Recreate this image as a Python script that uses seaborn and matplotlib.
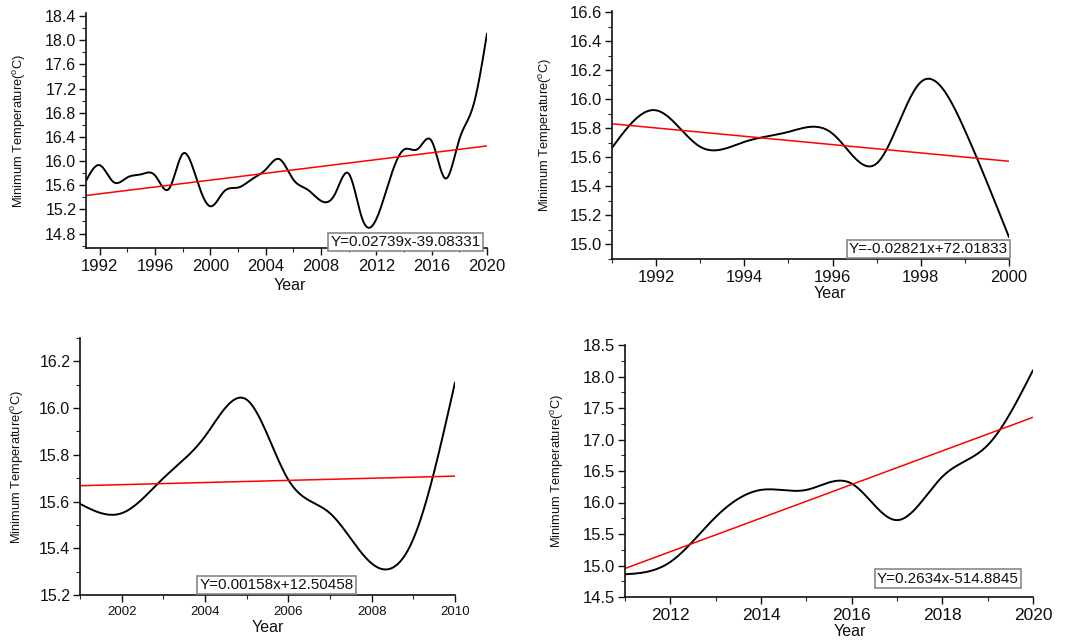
import numpy as np
import pandas as pd
import matplotlib
matplotlib.use("Agg")
import matplotlib.pyplot as plt
import seaborn as sns
from matplotlib.ticker import MultipleLocator

# annual minimum temperature (panels are not fully consistent)
years_all = list(range(1991, 2021))
tmin_all = [15.67, 15.93, 15.65, 15.73, 15.78, 15.76, 15.54, 16.12, 15.70, 15.25,
            15.50, 15.56, 15.70, 15.86, 16.03, 15.69, 15.53, 15.34, 15.45, 15.79,
            15.03, 15.04, 15.72, 16.19, 16.20, 16.33, 15.71, 16.36, 16.91, 18.11]

years_a = list(range(1991, 2001))
tmin_a = [15.665, 15.924, 15.672, 15.706, 15.775, 15.763, 15.557, 16.119, 15.786, 15.048]

years_b = list(range(2001, 2011))
tmin_b = [15.59, 15.55, 15.70, 15.879, 16.036, 15.693, 15.55, 15.335, 15.44, 16.11]

years_c = list(range(2011, 2021))
tmin_c = [14.86, 15.056, 15.77, 16.20, 16.20, 16.30, 15.72, 16.41, 16.91, 18.10]

equations = ["Y=0.02739x-39.08331", "Y=-0.02821x+72.01833",
             "Y=0.00158x+12.50458", "Y=0.2634x-514.8845"]


def natural_spline(x, y, n=600):
    # smooth connection between the yearly points (like Origin's spline line)
    x = np.asarray(x, float)
    y = np.asarray(y, float)
    k = len(x)
    h = np.diff(x)
    A = np.zeros((k, k))
    r = np.zeros(k)
    A[0, 0] = A[-1, -1] = 1
    for i in range(1, k - 1):
        A[i, i - 1] = h[i - 1]
        A[i, i] = 2 * (h[i - 1] + h[i])
        A[i, i + 1] = h[i]
        r[i] = 6 * ((y[i + 1] - y[i]) / h[i] - (y[i] - y[i - 1]) / h[i - 1])
    m = np.linalg.solve(A, r)
    xs = np.linspace(x[0], x[-1], n)
    j = np.clip(np.searchsorted(x, xs) - 1, 0, k - 2)
    t0 = xs - x[j]
    t1 = x[j + 1] - xs
    hj = h[j]
    ys = (m[j] * t1 ** 3 / (6 * hj) + m[j + 1] * t0 ** 3 / (6 * hj)
          + (y[j] / hj - m[j] * hj / 6) * t1 + (y[j + 1] / hj - m[j + 1] * hj / 6) * t0)
    return xs, ys


sns.set_style("ticks")
plt.rcParams["font.family"] = ["Liberation Sans", "DejaVu Sans"]
plt.rcParams["mathtext.fontset"] = "custom"
plt.rcParams["mathtext.rm"] = "Liberation Sans"

W, H = 1088, 641
fig = plt.figure(figsize=(W / 100, H / 100), dpi=100)


def px_axes(l, t, r, b):
    return fig.add_axes([l / W, 1 - b / H, (r - l) / W, (b - t) / H])


panels = [
    dict(rect=(86, 13, 487, 248), x=years_all, y=tmin_all, ylim=(14.56, 18.45),
         ymaj=0.4, ymin=0.2, xmaj=4, xmin=2, xfirst=1992, eq=equations[0],
         box=(0.985, -0.005), ha="right", xfs=12, yfs=11.5, ylx=20, xlab=(290, 286)),
    dict(rect=(612, 11, 1009, 259), x=years_a, y=tmin_a, ylim=(14.897, 16.61),
         ymaj=0.2, ymin=0.1, xmaj=2, xmin=1, xfirst=1992, eq=equations[1],
         box=(0.998, 0.012), ha="right", xfs=12, yfs=12, ylx=546, xlab=(830, 294)),
    dict(rect=(80, 338, 455, 595), x=years_b, y=tmin_b, ylim=(15.2, 16.3),
         ymaj=0.2, ymin=0.1, xmaj=2, xmin=1, xfirst=2002, eq=equations[2],
         box=(0.525, 0.012), ha="center", xfs=9.5, yfs=11.5, ylx=18, xlab=(268, 628)),
    dict(rect=(625, 345, 1033, 597), x=years_c, y=tmin_c, ylim=(14.5, 18.5),
         ymaj=0.5, ymin=0.25, xmaj=2, xmin=1, xfirst=2012, eq=equations[3],
         box=(0.965, 0.045), ha="right", xfs=12.5, yfs=12, ylx=558, xlab=(850, 632)),
]

for p in panels:
    ax = px_axes(*p["rect"])
    df = pd.DataFrame({"Year": p["x"], "Tmin": p["y"]})
    xs, ys = natural_spline(df["Year"], df["Tmin"])
    sns.lineplot(x=xs, y=ys, ax=ax, color="black", linewidth=1.4)
    sns.regplot(data=df, x="Year", y="Tmin", ax=ax, scatter=False, ci=None,
                truncate=True, color="red", line_kws={"linewidth": 1.1})
    ax.set_xlim(df["Year"].min(), df["Year"].max())
    ax.set_ylim(*p["ylim"])
    ax.set_xticks(np.arange(p["xfirst"], df["Year"].max() + 1, p["xmaj"]))
    ax.xaxis.set_minor_locator(MultipleLocator(p["xmin"]))
    ax.yaxis.set_major_locator(MultipleLocator(p["ymaj"]))
    ax.yaxis.set_minor_locator(MultipleLocator(p["ymin"]))
    ax.yaxis.set_major_formatter(matplotlib.ticker.FormatStrFormatter("%.1f"))
    ax.tick_params(axis="x", which="major", direction="out", length=5, width=1,
                   labelsize=p["xfs"], colors="#111111", pad=3)
    ax.tick_params(axis="y", which="major", direction="out", length=5, width=1,
                   labelsize=p["yfs"], colors="#111111", pad=2)
    ax.tick_params(which="minor", direction="out", length=3, width=0.8)
    for s in ["top", "right"]:
        ax.spines[s].set_visible(False)
    for s in ["left", "bottom"]:
        ax.spines[s].set_linewidth(1.2)
        ax.spines[s].set_color("#111111")
    ax.set_xlabel("")
    ax.set_ylabel("")
    ax.text(p["box"][0], p["box"][1], p["eq"], transform=ax.transAxes,
            ha=p["ha"], va="bottom", fontsize=11, color="#111111", zorder=5,
            bbox=dict(boxstyle="square,pad=0.15", fc="white", ec="#888888", lw=1.2))
    l, t, r, b = p["rect"]
    fig.text(p["ylx"] / W, 1 - ((t + b) / 2) / H, r"Minimum Temperature($^{\mathrm{o}}$C)",
             rotation=90, ha="center", va="center", fontsize=9.3, color="#111111")
    fig.text(p["xlab"][0] / W, 1 - p["xlab"][1] / H, "Year", ha="center", va="center",
             fontsize=11.5, color="#111111")

fig.savefig("out.png", dpi=100, facecolor="white")
